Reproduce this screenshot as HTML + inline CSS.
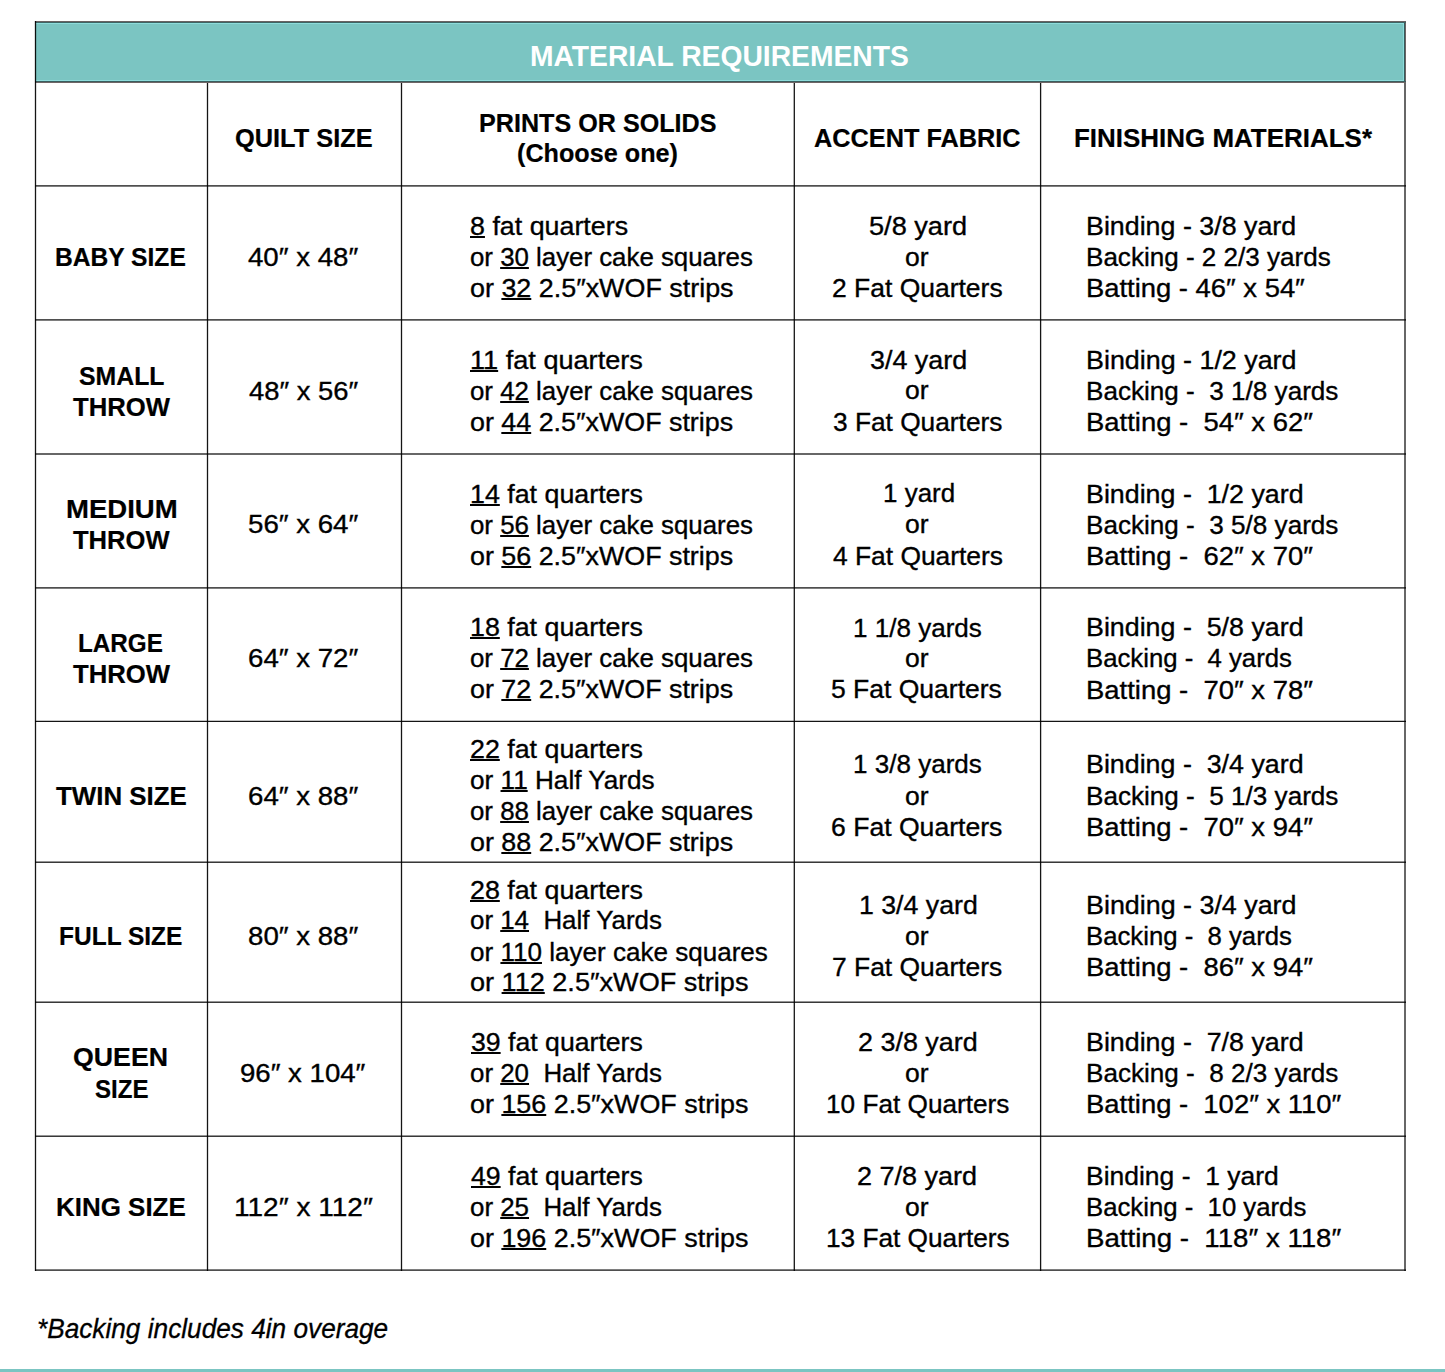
<!DOCTYPE html>
<html><head><meta charset="utf-8"><title>Material Requirements</title><style>
html,body{margin:0;padding:0;background:#fff;width:1445px;height:1372px;overflow:hidden;position:relative}
.t{position:absolute;white-space:pre;line-height:0;font-family:"Liberation Sans",sans-serif;transform-origin:0 0}
.r{font-size:26px;font-weight:400;color:#000;-webkit-text-stroke:0.35px #000}
.b{font-size:26px;font-weight:700;color:#000;-webkit-text-stroke:0.2px #000}
.h{font-size:29px;font-weight:700;color:#fff}
.i{font-size:27px;font-style:italic;color:#000;-webkit-text-stroke:0.3px #000}
u{text-decoration:underline;text-decoration-thickness:1.7px;text-underline-offset:1px}
.teal{position:absolute;background:#7bc5c2}
.ln{position:absolute;background:#000}
.foot{position:absolute;left:0;top:1369px;width:1445px;height:3px;background:#7bc5c2}
</style></head><body>
<div class="teal" style="left:35px;top:21px;width:1371px;height:62px"></div>
<div class="ln" style="left:35px;top:21px;width:1371px;height:1px;background:#6b6262"></div>
<div class="ln" style="left:35px;top:22px;width:1371px;height:1px;background:#3d6464"></div>
<div class="ln" style="left:35px;top:23px;width:1371px;height:1px;background:#8ddcdb"></div>
<div class="ln" style="left:35px;top:80px;width:1371px;height:1px;background:#8ddcdb"></div>
<div class="ln" style="left:35px;top:81px;width:1371px;height:1px;background:#3a5e5e"></div>
<div class="ln" style="left:35px;top:82px;width:1371px;height:1px;background:#6e6565"></div>
<div class="ln" style="left:1403px;top:23px;width:1px;height:58px;background:#8ddcdb"></div>
<div class="ln" style="left:1404px;top:23px;width:1px;height:58px;background:#355b5b"></div>
<div class="ln" style="left:1405px;top:23px;width:1px;height:58px;background:#6e6565"></div>
<div class="ln" style="left:35px;top:185px;width:1371px;height:1px;opacity:0.690"></div>
<div class="ln" style="left:35px;top:186px;width:1371px;height:1px;opacity:0.506"></div>
<div class="ln" style="left:35px;top:319px;width:1371px;height:1px;opacity:0.690"></div>
<div class="ln" style="left:35px;top:320px;width:1371px;height:1px;opacity:0.506"></div>
<div class="ln" style="left:35px;top:453px;width:1371px;height:1px;opacity:0.598"></div>
<div class="ln" style="left:35px;top:454px;width:1371px;height:1px;opacity:0.598"></div>
<div class="ln" style="left:35px;top:587px;width:1371px;height:1px;opacity:0.690"></div>
<div class="ln" style="left:35px;top:588px;width:1371px;height:1px;opacity:0.506"></div>
<div class="ln" style="left:35px;top:720px;width:1371px;height:1px;opacity:0.230"></div>
<div class="ln" style="left:35px;top:721px;width:1371px;height:1px;opacity:0.920"></div>
<div class="ln" style="left:35px;top:861px;width:1371px;height:1px;opacity:0.414"></div>
<div class="ln" style="left:35px;top:862px;width:1371px;height:1px;opacity:0.782"></div>
<div class="ln" style="left:35px;top:1001px;width:1371px;height:1px;opacity:0.414"></div>
<div class="ln" style="left:35px;top:1002px;width:1371px;height:1px;opacity:0.782"></div>
<div class="ln" style="left:35px;top:1135px;width:1371px;height:1px;opacity:0.414"></div>
<div class="ln" style="left:35px;top:1136px;width:1371px;height:1px;opacity:0.782"></div>
<div class="ln" style="left:35px;top:1269px;width:1371px;height:1px;opacity:0.506"></div>
<div class="ln" style="left:35px;top:1270px;width:1371px;height:1px;opacity:0.690"></div>
<div class="ln" style="left:34px;top:21px;width:1px;height:1250px;opacity:0.138"></div>
<div class="ln" style="left:35px;top:21px;width:1px;height:1250px;opacity:0.920"></div>
<div class="ln" style="left:36px;top:21px;width:1px;height:1250px;opacity:0.138"></div>
<div class="ln" style="left:206px;top:83px;width:1px;height:1188px;opacity:0.138"></div>
<div class="ln" style="left:207px;top:83px;width:1px;height:1188px;opacity:0.920"></div>
<div class="ln" style="left:208px;top:83px;width:1px;height:1188px;opacity:0.138"></div>
<div class="ln" style="left:400px;top:83px;width:1px;height:1188px;opacity:0.138"></div>
<div class="ln" style="left:401px;top:83px;width:1px;height:1188px;opacity:0.920"></div>
<div class="ln" style="left:402px;top:83px;width:1px;height:1188px;opacity:0.138"></div>
<div class="ln" style="left:793px;top:83px;width:1px;height:1188px;opacity:0.322"></div>
<div class="ln" style="left:794px;top:83px;width:1px;height:1188px;opacity:0.874"></div>
<div class="ln" style="left:1039px;top:83px;width:1px;height:1188px;opacity:0.046"></div>
<div class="ln" style="left:1040px;top:83px;width:1px;height:1188px;opacity:0.920"></div>
<div class="ln" style="left:1041px;top:83px;width:1px;height:1188px;opacity:0.230"></div>
<div class="ln" style="left:1404px;top:83px;width:1px;height:1188px;opacity:0.598"></div>
<div class="ln" style="left:1405px;top:83px;width:1px;height:1188px;opacity:0.598"></div>
<div class="foot"></div>
<div class="t h" style="left:530.03px;top:56.0px;transform:scaleX(0.9742)">MATERIAL REQUIREMENTS</div>
<div class="t b" style="left:234.92px;top:138.0px;transform:scaleX(0.9755)">QUILT SIZE</div>
<div class="t b" style="left:479.03px;top:123.0px;transform:scaleX(0.9671)">PRINTS OR SOLIDS</div>
<div class="t b" style="left:517.13px;top:153.0px;transform:scaleX(0.9687)">(Choose one)</div>
<div class="t b" style="left:814.10px;top:138.0px;transform:scaleX(0.9729)">ACCENT FABRIC</div>
<div class="t b" style="left:1073.60px;top:138.0px;transform:scaleX(0.9983)">FINISHING MATERIALS*</div>
<div class="t b" style="left:55.35px;top:257.0px;transform:scaleX(0.9465)">BABY SIZE</div>
<div class="t b" style="left:78.60px;top:376.0px;transform:scaleX(0.9547)">SMALL</div>
<div class="t b" style="left:73.00px;top:407.0px;transform:scaleX(0.9883)">THROW</div>
<div class="t b" style="left:65.64px;top:509.0px;transform:scaleX(1.0596)">MEDIUM</div>
<div class="t b" style="left:73.00px;top:540.0px;transform:scaleX(0.9832)">THROW</div>
<div class="t b" style="left:78.37px;top:643.0px;transform:scaleX(0.9324)">LARGE</div>
<div class="t b" style="left:73.00px;top:674.0px;transform:scaleX(0.9883)">THROW</div>
<div class="t b" style="left:55.80px;top:796.0px;transform:scaleX(0.9947)">TWIN SIZE</div>
<div class="t b" style="left:58.86px;top:936.0px;transform:scaleX(0.9424)">FULL SIZE</div>
<div class="t b" style="left:73.27px;top:1057.0px;transform:scaleX(1.0277)">QUEEN</div>
<div class="t b" style="left:94.50px;top:1089.0px;transform:scaleX(0.9261)">SIZE</div>
<div class="t b" style="left:56.30px;top:1207.0px;transform:scaleX(0.9979)">KING SIZE</div>
<div class="t r" style="left:248.00px;top:257.0px;transform:scaleX(1.0629)">40″ x 48″</div>
<div class="t r" style="left:249.00px;top:391.0px;transform:scaleX(1.0532)">48″ x 56″</div>
<div class="t r" style="left:247.94px;top:524.0px;transform:scaleX(1.0635)">56″ x 64″</div>
<div class="t r" style="left:247.94px;top:658.0px;transform:scaleX(1.0635)">64″ x 72″</div>
<div class="t r" style="left:247.94px;top:796.0px;transform:scaleX(1.0635)">64″ x 88″</div>
<div class="t r" style="left:247.94px;top:936.0px;transform:scaleX(1.0635)">80″ x 88″</div>
<div class="t r" style="left:240.34px;top:1073.0px;transform:scaleX(1.0611)">96″ x 104″</div>
<div class="t r" style="left:234.02px;top:1207.0px;transform:scaleX(1.0780)">112″ x 112″</div>
<div class="t r" style="left:470.17px;top:226.0px;transform:scaleX(1.0316)"><u>8</u> fat quarters</div>
<div class="t r" style="left:470.21px;top:257.0px;transform:scaleX(0.9933)">or <u>30</u> layer cake squares</div>
<div class="t r" style="left:470.17px;top:288.0px;transform:scaleX(1.0342)">or <u>32</u> 2.5″xWOF strips</div>
<div class="t r" style="left:470.16px;top:360.0px;transform:scaleX(1.0430)"><u>11</u> fat quarters</div>
<div class="t r" style="left:470.21px;top:391.0px;transform:scaleX(0.9940)">or <u>42</u> layer cake squares</div>
<div class="t r" style="left:470.17px;top:422.0px;transform:scaleX(1.0326)">or <u>44</u> 2.5″xWOF strips</div>
<div class="t r" style="left:470.17px;top:494.0px;transform:scaleX(1.0309)"><u>14</u> fat quarters</div>
<div class="t r" style="left:470.21px;top:525.0px;transform:scaleX(0.9940)">or <u>56</u> layer cake squares</div>
<div class="t r" style="left:470.17px;top:556.0px;transform:scaleX(1.0326)">or <u>56</u> 2.5″xWOF strips</div>
<div class="t r" style="left:470.17px;top:627.0px;transform:scaleX(1.0309)"><u>18</u> fat quarters</div>
<div class="t r" style="left:470.21px;top:658.0px;transform:scaleX(0.9940)">or <u>72</u> layer cake squares</div>
<div class="t r" style="left:470.17px;top:689.0px;transform:scaleX(1.0326)">or <u>72</u> 2.5″xWOF strips</div>
<div class="t r" style="left:470.17px;top:749.0px;transform:scaleX(1.0309)"><u>22</u> fat quarters</div>
<div class="t r" style="left:470.19px;top:780.0px;transform:scaleX(1.0060)">or <u>11</u> Half Yards</div>
<div class="t r" style="left:470.21px;top:811.0px;transform:scaleX(0.9940)">or <u>88</u> layer cake squares</div>
<div class="t r" style="left:470.17px;top:842.0px;transform:scaleX(1.0326)">or <u>88</u> 2.5″xWOF strips</div>
<div class="t r" style="left:470.17px;top:890.0px;transform:scaleX(1.0309)"><u>28</u> fat quarters</div>
<div class="t r" style="left:470.20px;top:920.0px;transform:scaleX(0.9960)">or <u>14</u>  Half Yards</div>
<div class="t r" style="left:470.20px;top:952.0px;transform:scaleX(1.0022)">or <u>110</u> layer cake squares</div>
<div class="t r" style="left:470.16px;top:982.0px;transform:scaleX(1.0415)">or <u>112</u> 2.5″xWOF strips</div>
<div class="t r" style="left:471.20px;top:1042.0px;transform:scaleX(1.0247)"><u>39</u> fat quarters</div>
<div class="t r" style="left:470.20px;top:1073.0px;transform:scaleX(0.9960)">or <u>20</u>  Half Yards</div>
<div class="t r" style="left:470.17px;top:1104.0px;transform:scaleX(1.0340)">or <u>156</u> 2.5″xWOF strips</div>
<div class="t r" style="left:471.20px;top:1176.0px;transform:scaleX(1.0247)"><u>49</u> fat quarters</div>
<div class="t r" style="left:470.20px;top:1207.0px;transform:scaleX(0.9960)">or <u>25</u>  Half Yards</div>
<div class="t r" style="left:470.17px;top:1238.0px;transform:scaleX(1.0340)">or <u>196</u> 2.5″xWOF strips</div>
<div class="t r" style="left:868.76px;top:226.0px;transform:scaleX(1.0439)">5/8 yard</div>
<div class="t r" style="left:905.28px;top:257.0px;transform:scaleX(1.0196)">or</div>
<div class="t r" style="left:831.68px;top:288.0px;transform:scaleX(1.0179)">2 Fat Quarters</div>
<div class="t r" style="left:869.80px;top:360.0px;transform:scaleX(1.0337)">3/4 yard</div>
<div class="t r" style="left:905.28px;top:390.0px;transform:scaleX(1.0196)">or</div>
<div class="t r" style="left:833.10px;top:422.0px;transform:scaleX(1.0106)">3 Fat Quarters</div>
<div class="t r" style="left:882.50px;top:493.0px;transform:scaleX(0.9985)">1 yard</div>
<div class="t r" style="left:905.28px;top:524.0px;transform:scaleX(1.0196)">or</div>
<div class="t r" style="left:832.50px;top:556.0px;transform:scaleX(1.0142)">4 Fat Quarters</div>
<div class="t r" style="left:852.90px;top:628.0px;transform:scaleX(1.0013)">1 1/8 yards</div>
<div class="t r" style="left:905.28px;top:658.0px;transform:scaleX(1.0196)">or</div>
<div class="t r" style="left:831.48px;top:689.0px;transform:scaleX(1.0191)">5 Fat Quarters</div>
<div class="t r" style="left:852.90px;top:764.0px;transform:scaleX(1.0013)">1 3/8 yards</div>
<div class="t r" style="left:905.28px;top:796.0px;transform:scaleX(1.0196)">or</div>
<div class="t r" style="left:830.98px;top:827.0px;transform:scaleX(1.0221)">6 Fat Quarters</div>
<div class="t r" style="left:858.87px;top:905.0px;transform:scaleX(1.0268)">1 3/4 yard</div>
<div class="t r" style="left:905.28px;top:936.0px;transform:scaleX(1.0196)">or</div>
<div class="t r" style="left:831.98px;top:967.0px;transform:scaleX(1.0161)">7 Fat Quarters</div>
<div class="t r" style="left:857.86px;top:1042.0px;transform:scaleX(1.0356)">2 3/8 yard</div>
<div class="t r" style="left:905.28px;top:1073.0px;transform:scaleX(1.0196)">or</div>
<div class="t r" style="left:825.89px;top:1104.0px;transform:scaleX(1.0073)">10 Fat Quarters</div>
<div class="t r" style="left:857.26px;top:1176.0px;transform:scaleX(1.0383)">2 7/8 yard</div>
<div class="t r" style="left:905.28px;top:1207.0px;transform:scaleX(1.0196)">or</div>
<div class="t r" style="left:825.99px;top:1238.0px;transform:scaleX(1.0084)">13 Fat Quarters</div>
<div class="t r" style="left:1086.14px;top:226.0px;transform:scaleX(1.0313)">Binding - 3/8 yard</div>
<div class="t r" style="left:1086.20px;top:257.0px;transform:scaleX(1.0023)">Backing - 2 2/3 yards</div>
<div class="t r" style="left:1086.09px;top:288.0px;transform:scaleX(1.0533)">Batting - 46″ x 54″</div>
<div class="t r" style="left:1086.13px;top:360.0px;transform:scaleX(1.0328)">Binding - 1/2 yard</div>
<div class="t r" style="left:1086.19px;top:391.0px;transform:scaleX(1.0038)">Backing -  3 1/8 yards</div>
<div class="t r" style="left:1086.09px;top:422.0px;transform:scaleX(1.0556)">Batting -  54″ x 62″</div>
<div class="t r" style="left:1086.14px;top:494.0px;transform:scaleX(1.0311)">Binding -  1/2 yard</div>
<div class="t r" style="left:1086.19px;top:525.0px;transform:scaleX(1.0038)">Backing -  3 5/8 yards</div>
<div class="t r" style="left:1086.09px;top:556.0px;transform:scaleX(1.0556)">Batting -  62″ x 70″</div>
<div class="t r" style="left:1086.14px;top:627.0px;transform:scaleX(1.0311)">Binding -  5/8 yard</div>
<div class="t r" style="left:1086.22px;top:658.0px;transform:scaleX(0.9894)">Backing -  4 yards</div>
<div class="t r" style="left:1086.09px;top:690.0px;transform:scaleX(1.0556)">Batting -  70″ x 78″</div>
<div class="t r" style="left:1086.14px;top:764.0px;transform:scaleX(1.0311)">Binding -  3/4 yard</div>
<div class="t r" style="left:1086.19px;top:796.0px;transform:scaleX(1.0038)">Backing -  5 1/3 yards</div>
<div class="t r" style="left:1086.09px;top:827.0px;transform:scaleX(1.0556)">Batting -  70″ x 94″</div>
<div class="t r" style="left:1086.13px;top:905.0px;transform:scaleX(1.0328)">Binding - 3/4 yard</div>
<div class="t r" style="left:1086.22px;top:936.0px;transform:scaleX(0.9894)">Backing -  8 yards</div>
<div class="t r" style="left:1086.09px;top:967.0px;transform:scaleX(1.0556)">Batting -  86″ x 94″</div>
<div class="t r" style="left:1086.14px;top:1042.0px;transform:scaleX(1.0311)">Binding -  7/8 yard</div>
<div class="t r" style="left:1086.19px;top:1073.0px;transform:scaleX(1.0038)">Backing -  8 2/3 yards</div>
<div class="t r" style="left:1086.09px;top:1104.0px;transform:scaleX(1.0548)">Batting -  102″ x 110″</div>
<div class="t r" style="left:1086.16px;top:1176.0px;transform:scaleX(1.0179)">Binding -  1 yard</div>
<div class="t r" style="left:1086.22px;top:1207.0px;transform:scaleX(0.9898)">Backing -  10 yards</div>
<div class="t r" style="left:1086.07px;top:1238.0px;transform:scaleX(1.0634)">Batting -  118″ x 118″</div>
<div class="t i" style="left:36.83px;top:1329.0px;transform:scaleX(0.9708)">*Backing includes 4in overage</div>
</body></html>
